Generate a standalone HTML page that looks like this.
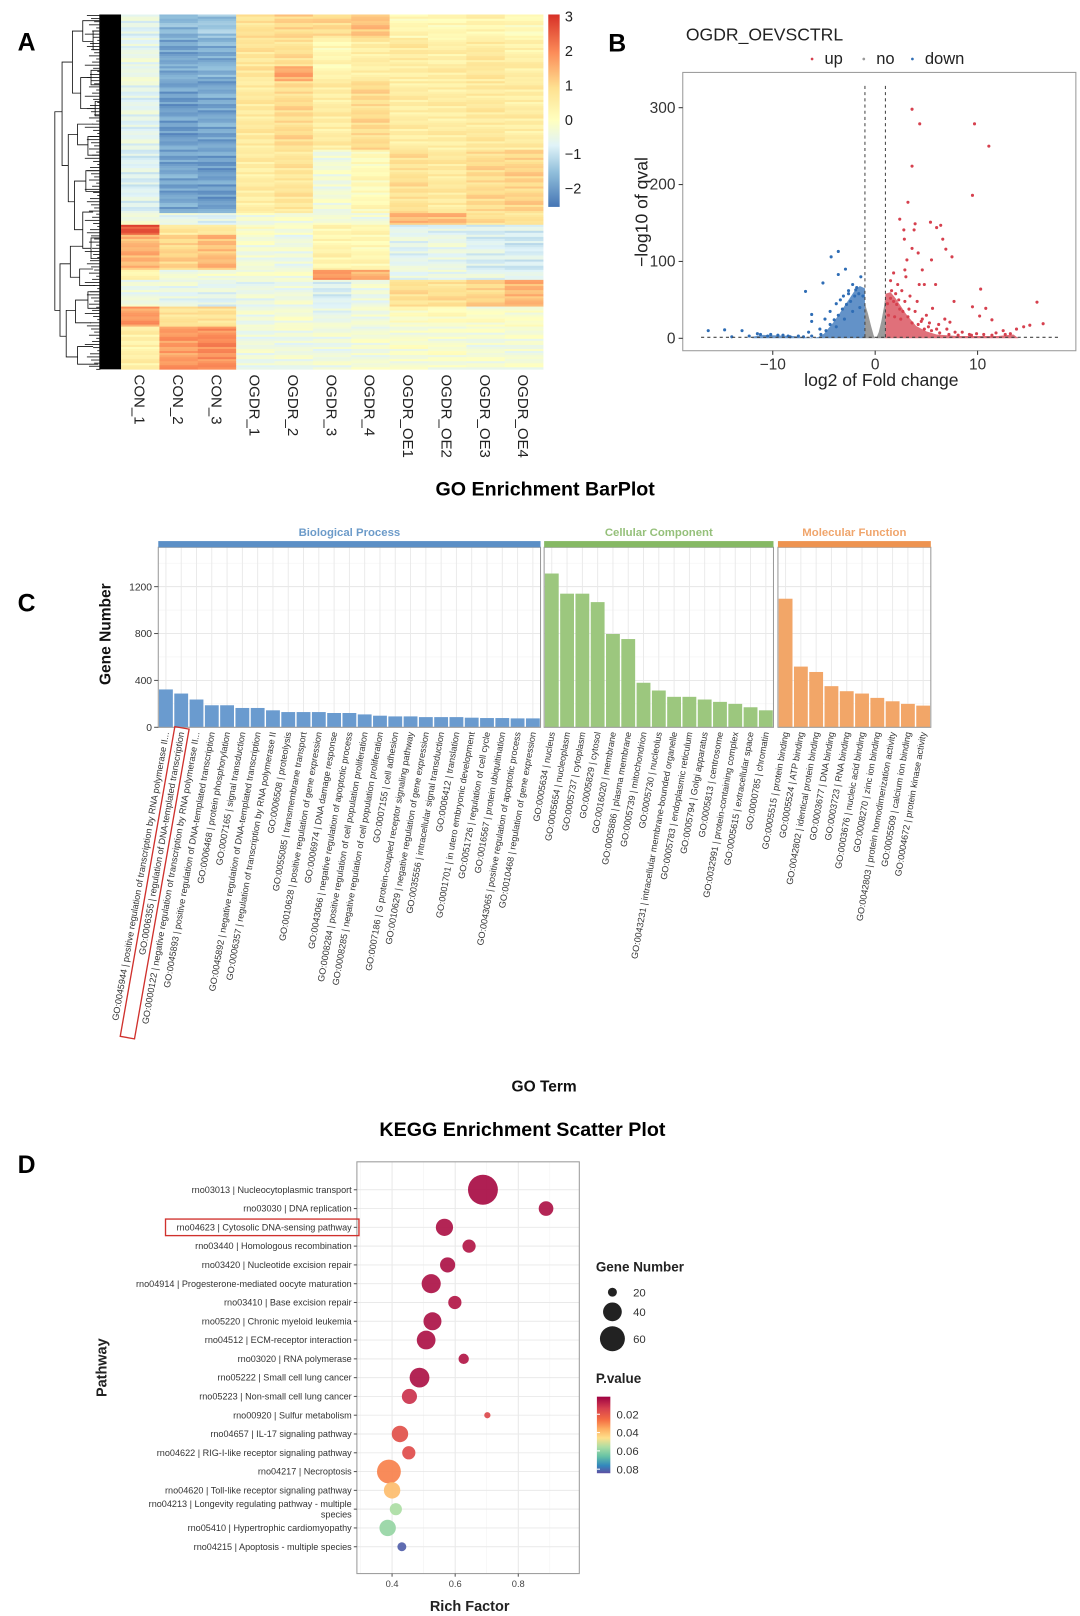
<!DOCTYPE html>
<html><head><meta charset="utf-8"><title>Figure</title>
<style>
html,body{margin:0;padding:0;background:#fff;width:1080px;height:1616px;overflow:hidden}
svg{display:block;font-family:"Liberation Sans",Arial,sans-serif}
</style></head>
<body>
<svg id="fig" width="1080" height="1616" viewBox="0 0 1044 1562" preserveAspectRatio="none" xmlns="http://www.w3.org/2000/svg">
<defs>
<linearGradient id="hmGrad" x1="0" y1="0" x2="0" y2="1">
<stop offset="0" stop-color="#D73027"/><stop offset="0.2" stop-color="#FC8D59"/><stop offset="0.38" stop-color="#FEE090"/><stop offset="0.55" stop-color="#FFFFBF"/><stop offset="0.68" stop-color="#E0F3F8"/><stop offset="0.82" stop-color="#91BFDB"/><stop offset="1" stop-color="#4575B4"/>
</linearGradient>
<linearGradient id="pGrad" x1="0" y1="0" x2="0" y2="1">
<stop offset="0" stop-color="#9E0142"/><stop offset="0.15" stop-color="#D53E4F"/><stop offset="0.3" stop-color="#F46D43"/><stop offset="0.42" stop-color="#FDAE61"/><stop offset="0.54" stop-color="#FEE08B"/><stop offset="0.66" stop-color="#ABDDA4"/><stop offset="0.78" stop-color="#66C2A5"/><stop offset="0.9" stop-color="#3288BD"/><stop offset="1" stop-color="#5E4FA2"/>
</linearGradient>
</defs>
<text x="17" y="49" font-size="24" font-weight="bold">A</text>
<text x="588" y="50" font-size="24" font-weight="bold">B</text>
<text x="17" y="591" font-size="24" font-weight="bold">C</text>
<text x="17" y="1134" font-size="24" font-weight="bold">D</text>
<text x="527" y="479" font-size="19" font-weight="bold" text-anchor="middle">GO Enrichment BarPlot</text>
<text x="505" y="1098" font-size="19" font-weight="bold" text-anchor="middle">KEGG Enrichment Scatter Plot</text>
<g id="gA"></g><g id="gB"></g><g id="gC"></g><g id="gD"></g>
</svg>
<script>
// ===== Panel A data =====
const hmCols = ['CON_1','CON_2','CON_3','OGDR_1','OGDR_2','OGDR_3','OGDR_4','OGDR_OE1','OGDR_OE2','OGDR_OE3','OGDR_OE4'];
const hmBlockSizes = [70,85,45,205,190,35,30,105,30,80,60,128];
const hmBlockValues = [
 [-0.6,-1.6,-1.4,0.8,1.0,0.9,1.2,0.2,0.2,0.3,0.1],
 [-0.5,-1.8,-1.7,0.7,0.8,0.2,0.5,0.6,0.4,0.6,0.4],
 [-0.5,-1.7,-1.6,0.7,1.5,0.3,0.5,0.5,0.5,0.6,0.5],
 [-0.6,-1.9,-1.8,0.6,0.9,0.5,0.9,0.5,0.5,0.6,0.5],
 [-0.7,-1.8,-1.9,0.5,0.7,-0.3,0.1,0.8,0.6,0.9,1.0],
 [-0.4,-0.5,-0.6,-0.3,-0.3,-0.3,-0.3,1.4,1.3,0.8,0.8],
 [2.6,0.6,0.6,0.0,-0.2,0.2,0.2,-0.6,-0.6,-0.7,-0.8],
 [1.4,1.0,1.3,-0.3,-0.4,0.3,0.2,-0.6,-0.5,-0.7,-0.8],
 [0.2,-0.3,-0.2,-0.2,-0.3,1.7,1.5,-0.5,-0.5,-0.6,-0.6],
 [-0.4,-0.5,-0.6,-0.5,-0.4,-0.7,-0.4,0.8,0.8,1.0,1.4],
 [1.7,0.8,0.8,-0.4,-0.3,-0.5,-0.3,0.0,0.0,-0.1,-0.1],
 [0.4,1.7,1.9,-0.4,-0.4,-0.4,-0.3,-0.2,-0.2,-0.3,-0.3]
];
const hmStreaks = [0,0.15,-0.1,0.25,-0.2,0.05,0.3,-0.15,0.1,-0.25,0.2,-0.05,0.12,-0.3];
const hmTicks = [3,2,1,0,-1,-2];
// ===== Panel B data =====
const upOutliers = [[3.6,298],[4.35,279],[9.7,279],[11.1,250],[3.6,224],[9.5,186],[3.2,177],[2.4,155],[5.4,151],[3.9,149],[6.4,147],[6.0,144],[2.8,141],[3.8,141],[2.85,129],[6.6,129],[3.6,117],[4.2,111],[6.9,116],[7.5,106],[5.5,102],[3.1,102],[4.6,89],[1.8,85],[2.9,89],[5.9,70],[4.3,70],[4.8,70],[10.3,64],[15.8,47],[7.7,48],[9.5,41],[10.8,39],[5.6,39],[16.4,19],[15.1,17],[10.2,29],[11.4,24],[7.3,21],[2.2,70],[2.6,62],[3.4,55],[4.1,48],[3.0,80],[1.5,75],[5.0,30],[6.2,18],[7.0,12],[8.5,8],[12.5,10],[13.8,12],[14.5,15],[13.2,6],[9.2,5],[11.8,7],[6.8,25],[5.3,20],[4.6,25],[3.9,35],[2.3,50]];
const upDense = [[1.2,45],[1.5,52],[1.8,48],[2.1,44],[2.4,38],[2.7,35],[1.3,30],[1.9,28],[2.5,25],[3.2,28],[3.6,20],[4.2,18],[4.8,12],[5.5,10],[6.3,7],[7.2,5],[8.1,4],[9.4,4],[10.6,5],[11.4,4],[12.7,5],[3.3,38],[2.9,48],[1.6,62],[2.0,58],[4.5,22],[5.2,15],[6.0,12],[7.8,8],[9.9,6]];
const downOutliers = [[-3.6,113],[-4.3,106],[-2.9,90],[-3.6,83],[-5.1,72],[-6.8,61],[-6.2,31],[-6.2,22],[-16.3,10],[-14.7,11],[-13.0,10],[-14.0,2],[-2.2,70],[-1.8,66],[-2.6,62],[-3.1,55],[-3.8,45],[-4.4,35],[-4.9,25],[-5.4,12],[-7.5,3],[-9.0,4],[-10.2,5],[-11.5,6],[-12.3,3],[-8.3,2],[-6.5,8],[-1.4,80]];
const downDense = [[-1.2,55],[-1.6,58],[-2.0,55],[-2.4,48],[-2.8,44],[-3.2,38],[-3.6,30],[-4.0,24],[-4.4,18],[-4.8,10],[-1.5,40],[-2.2,35],[-3.0,25],[-3.8,15],[-5.3,5],[-6.2,3],[-7.0,2],[-8.5,3],[-9.5,4],[-10.5,3],[-11.2,5],[-2.6,58],[-1.9,63],[-3.4,50]];
const downHull = [[-1,0],[-1,65],[-1.5,68],[-2,62],[-2.5,52],[-3,42],[-3.5,32],[-4,22],[-4.5,14],[-5,6],[-5.5,2],[-6,0]];
const downLowHull = [[-6,0],[-8,3],[-11,4.5],[-12,2],[-12,0]];
const upHull = [[1,0],[1,58],[1.5,60],[2,52],[2.5,42],[3,32],[3.5,24],[4,16],[5,9],[6,5],[8,3],[12,3],[13.5,5],[14,0]];
const noHullLeft = [[-1,0],[-1,45],[-0.7,32],[-0.4,16],[-0.15,4],[0,0]];
const noHullRight = [[0.1,0],[0.35,8],[0.6,22],[0.85,40],[1,55],[1,0]];
const vXTicks = [-10,0,10];
const vYTicks = [0,100,200,300];
// ===== Panel C data =====
const bpTerms = ['GO:0045944 | positive regulation of transcription by RNA polymerase II...','GO:0006355 | regulation of DNA-templated transcription','GO:0000122 | negative regulation of transcription by RNA polymerase II...','GO:0045893 | positive regulation of DNA-templated transcription','GO:0006468 | protein phosphorylation','GO:0007165 | signal transduction','GO:0045892 | negative regulation of DNA-templated transcription','GO:0006357 | regulation of transcription by RNA polymerase II','GO:0006508 | proteolysis','GO:0055085 | transmembrane transport','GO:0010628 | positive regulation of gene expression','GO:0006974 | DNA damage response','GO:0043066 | negative regulation of apoptotic process','GO:0008284 | positive regulation of cell population proliferation','GO:0008285 | negative regulation of cell population proliferation','GO:0007155 | cell adhesion','GO:0007186 | G protein-coupled receptor signaling pathway','GO:0010629 | negative regulation of gene expression','GO:0035556 | intracellular signal transduction','GO:0006412 | translation','GO:0001701 | in utero embryonic development','GO:0051726 | regulation of cell cycle','GO:0016567 | protein ubiquitination','GO:0043065 | positive regulation of apoptotic process','GO:0010468 | regulation of gene expression'];
const bpValues = [323,288,237,188,188,165,165,145,130,130,130,122,122,110,99,93,93,87,87,87,82,79,79,76,76];
const ccTerms = ['GO:0005634 | nucleus','GO:0005654 | nucleoplasm','GO:0005737 | cytoplasm','GO:0005829 | cytosol','GO:0016020 | membrane','GO:0005886 | plasma membrane','GO:0005739 | mitochondrion','GO:0005730 | nucleolus','GO:0043231 | intracellular membrane-bounded organelle','GO:0005783 | endoplasmic reticulum','GO:0005794 | Golgi apparatus','GO:0005813 | centrosome','GO:0032991 | protein-containing complex','GO:0005615 | extracellular space','GO:0000785 | chromatin'];
const ccValues = [1312,1140,1140,1068,796,753,380,314,260,260,237,217,200,171,145];
const mfTerms = ['GO:0005515 | protein binding','GO:0005524 | ATP binding','GO:0042802 | identical protein binding','GO:0003677 | DNA binding','GO:0003723 | RNA binding','GO:0003676 | nucleic acid binding','GO:0008270 | zinc ion binding','GO:0042803 | protein homodimerization activity','GO:0005509 | calcium ion binding','GO:0004672 | protein kinase activity'];
const mfValues = [1097,518,472,351,308,288,251,222,200,185];
const goYTicks = [0,400,800,1200];
// ===== Panel D data =====
const keggPathways = ['rno03013 | Nucleocytoplasmic transport','rno03030 | DNA replication','rno04623 | Cytosolic DNA-sensing pathway','rno03440 | Homologous recombination','rno03420 | Nucleotide excision repair','rno04914 | Progesterone-mediated oocyte maturation','rno03410 | Base excision repair','rno05220 | Chronic myeloid leukemia','rno04512 | ECM-receptor interaction','rno03020 | RNA polymerase','rno05222 | Small cell lung cancer','rno05223 | Non-small cell lung cancer','rno00920 | Sulfur metabolism','rno04657 | IL-17 signaling pathway','rno04622 | RIG-I-like receptor signaling pathway','rno04217 | Necroptosis','rno04620 | Toll-like receptor signaling pathway','rno04213 | Longevity regulating pathway - multiple species','rno05410 | Hypertrophic cardiomyopathy','rno04215 | Apoptosis - multiple species'];
const keggRich = [0.688,0.888,0.566,0.644,0.576,0.524,0.599,0.528,0.508,0.627,0.487,0.455,0.702,0.425,0.453,0.390,0.400,0.412,0.386,0.431];
const keggGenes = [80,30,36,27,31,41,27,38,40,22,43,31,17,34,27,56,34,25,34,20];
const keggP = [0.003,0.004,0.004,0.005,0.004,0.004,0.005,0.004,0.004,0.005,0.004,0.010,0.015,0.017,0.016,0.028,0.038,0.055,0.058,0.080];
const keggXTicks = [0.4,0.6,0.8];
const sizeLegend = [20,40,60];
const pLegend = [0.02,0.04,0.06,0.08];

const NS='http://www.w3.org/2000/svg';
function mk(tag, parent, attrs){const e=document.createElementNS(NS,tag);for(const k in attrs)e.setAttribute(k,attrs[k]);parent.appendChild(e);return e;}
function hex(c){return [parseInt(c.slice(1,3),16),parseInt(c.slice(3,5),16),parseInt(c.slice(5,7),16)];}
function ramp(stops,v){if(v<=stops[0][0])return stops[0][1];for(let i=1;i<stops.length;i++){if(v<=stops[i][0]){const t=(v-stops[i-1][0])/(stops[i][0]-stops[i-1][0]);const a=hex(stops[i-1][1]),b=hex(stops[i][1]);return 'rgb('+a.map((x,j)=>Math.round(x+(b[j]-x)*t)).join(',')+')';}}return stops[stops.length-1][1];}

// ===== Panel A =====
(function(){
 const g=document.getElementById('gA');
 const hx0=117,hx1=525,hy0=14,hy1=357,cw=(hx1-hx0)/hmCols.length;
 const total=hmBlockSizes.reduce((a,b)=>a+b,0);
 const stops=[[-2.4,'#4575B4'],[-1.5,'#91BFDB'],[-0.7,'#E0F3F8'],[0,'#FFFFBF'],[0.9,'#FEE090'],[1.9,'#FC8D59'],[3.1,'#D73027']];
 const hm=mk('g',g,{});
 
 
 let y=hy0;
 hmBlockSizes.forEach((sz,bi)=>{
  const h=sz/total*(hy1-hy0);
  const nRows=Math.max(1,Math.round(h/2));
  const rh=h/nRows;
  for(let r=0;r<nRows;r++){
   hmCols.forEach((c,ci)=>{
    const v=hmBlockValues[bi][ci]+hmStreaks[(r*3+ci*5+bi)%hmStreaks.length];
    const e=mk('rect',hm,{x:hx0+ci*cw,y:y+r*rh,width:cw+0.3,height:rh+0.3,fill:ramp(stops,v)});
    
    
   });
  }
  y+=h;
 });
 hmCols.forEach((c,ci)=>{
  const cx=hx0+ci*cw+cw/2;
  const t=mk('text',g,{x:0,y:0,'font-size':14.5,fill:'#222',transform:`translate(${cx-5.5},362) rotate(90)`});
  t.textContent=c;
  
  
 });
 const dg=mk('g',g,{stroke:'#111','stroke-width':0.8,fill:'none'});
 
 
 const dense=mk('rect',dg,{x:96,y:14,width:21,height:343,fill:'#000',stroke:'none'});
 
 
 const links=[[53,108,60,300,58],[60,60,70,160,66],[70,30,80,90,78],[66,130,75,195,72],[80,20,97,40,90],[78,75,88,105,92],[75,120,90,140,85],[72,175,83,222,80],[80,205,90,240,88],[58,255,68,325,64],[68,238,80,268,77],[64,300,73,345,75],[73,290,85,312,88],[75,335,90,352,95],[90,30,97,48,97],[88,68,97,82,97],[92,98,97,112,97],[85,132,97,150,97],[83,165,97,185,97],[88,230,97,250,97],[77,260,90,276,92],[85,282,97,298,97]];
 links.forEach(l=>{
  mk('path',dg,{d:`M${l[2]},${l[1]}H${l[0]}V${l[3]}H${l[4]}`});
 });
 const leafX=[84,88,91,86,93,89,82,90,94,87];
 for(let i=0;i<115;i++){const yy=15+i*3;mk('line',dg,{x1:leafX[i%leafX.length],y1:yy,x2:97,y2:yy});}
 const cb=mk('rect',g,{x:530,y:14,width:11,height:186,fill:'url(#hmGrad)'});
 
 
 hmTicks.forEach(v=>{
  const yy=14+(3.06-v)*33.2;
  const t=mk('text',g,{x:546,y:yy+5,'font-size':14,fill:'#222'});
  t.textContent=v<0?'\u2212'+Math.abs(v):String(v);
  
  
 });
})();

// ===== Panel B =====
(function(){
 const g=document.getElementById('gB');
 const X=v=>846+v*9.9, Y=v=>327-v*0.743;
 const t=mk('text',g,{x:663,y:39,'font-size':17,fill:'#222'});t.textContent='OGDR_OEVSCTRL';
 
 
 const leg=[['up','#D6404E',785],['no','#999',835],['down','#2F6DB5',882]];
 leg.forEach(l=>{
  const lg=mk('g',g,{});
  
  
  mk('circle',lg,{cx:l[2],cy:57,r:1.3,fill:l[1]});
  const tt=mk('text',lg,{x:l[2]+12,y:62,'font-size':16,fill:'#222'});tt.textContent=l[0];
 });
 const box=mk('rect',g,{x:660,y:70,width:380,height:269,fill:'#fff',stroke:'#999','stroke-width':1});
 
 
 function hull(pts,color,name,op){
  const p=mk('polygon',g,{points:pts.map(q=>X(q[0])+','+Y(q[1])).join(' '),fill:color,'fill-opacity':op});
  
  
 }
 hull(downHull,'#2F6DB5','down-regulated-density',0.75);
 hull(downLowHull,'#2F6DB5','down-regulated-tail',0.7);
 hull(upHull,'#D6404E','up-regulated-density',0.75);
 hull(noHullLeft,'#8f8f8f','not-significant-left',0.9);
 hull(noHullRight,'#8f8f8f','not-significant-right',0.9);
 upOutliers.concat(upDense).forEach(p=>{const c=mk('circle',g,{cx:X(p[0]),cy:Y(p[1]),r:1.5,fill:'#D6404E'});
  
  });
 downOutliers.concat(downDense).forEach(p=>{const c=mk('circle',g,{cx:X(p[0]),cy:Y(p[1]),r:1.5,fill:'#2F6DB5'});
  
  });
 const dash={stroke:'#444','stroke-width':1,'stroke-dasharray':'3,3'};
 const d1=mk('line',g,Object.assign({x1:X(-1),y1:83,x2:X(-1),y2:Y(0)},dash));
 
 
 const d2=mk('line',g,Object.assign({x1:X(1),y1:83,x2:X(1),y2:Y(0)},dash));
 
 
 const d3=mk('line',g,Object.assign({x1:X(-17),y1:Y(1.3),x2:X(18),y2:Y(1.3)},dash));
 
 
 vXTicks.forEach(v=>{mk('line',g,{x1:X(v),y1:339,x2:X(v),y2:343,stroke:'#333'});
  const tt=mk('text',g,{x:X(v),y:357,'font-size':15,'text-anchor':'middle',fill:'#333'});tt.textContent=v<0?'\u2212'+Math.abs(v):String(v);
  
  });
 vYTicks.forEach(v=>{mk('line',g,{x1:656,y1:Y(v),x2:660,y2:Y(v),stroke:'#333'});
  const tt=mk('text',g,{x:653,y:Y(v)+5,'font-size':15,'text-anchor':'end',fill:'#333'});tt.textContent=v;
  
  });
 const xl=mk('text',g,{x:852,y:373,'font-size':17,'text-anchor':'middle',fill:'#222'});xl.textContent='log2 of Fold change';
 
 
 const yl=mk('text',g,{x:0,y:0,'font-size':17,'text-anchor':'middle',fill:'#222',transform:'translate(626,205) rotate(-90)'});yl.textContent='\u2212log10 of qval';
 
 
})();

// ===== Panel C =====
(function(){
 const g=document.getElementById('gC');
 const band=14.78, yTop=529, y0=703, k=0.1133;
 const Y=v=>y0-v*k;
 const panels=[
  {name:'Biological Process',x0:153,terms:bpTerms,vals:bpValues,bar:'#6A9BCF',strip:'#5B8FC6',txt:'#6C9BC9',id:'biological-process'},
  {name:'Cellular Component',x0:526,terms:ccTerms,vals:ccValues,bar:'#9CC77E',strip:'#86B964',txt:'#95C07A',id:'cellular-component'},
  {name:'Molecular Function',x0:752,terms:mfTerms,vals:mfValues,bar:'#F2A668',strip:'#EE9350',txt:'#F0A56C',id:'molecular-function'}];
 panels.forEach((p,pi)=>{
  const w=p.vals.length*band, x1=p.x0+w;
  const pg=mk('g',g,{});
  
  
  mk('rect',pg,{x:p.x0,y:yTop,width:w,height:y0-yTop,fill:'#fff'});
  [200,600,1000,1400].forEach(v=>mk('line',pg,{x1:p.x0,y1:Y(v),x2:x1,y2:Y(v),stroke:'#F3F3F3','stroke-width':0.6}));
  goYTicks.forEach(v=>mk('line',pg,{x1:p.x0,y1:Y(v),x2:x1,y2:Y(v),stroke:'#E6E6E6','stroke-width':0.9}));
  p.vals.forEach((v,i)=>mk('line',pg,{x1:p.x0+band*(i+0.5),y1:yTop,x2:p.x0+band*(i+0.5),y2:y0,stroke:'#E9E9E9','stroke-width':0.9}));
  p.vals.forEach((v,i)=>{
   const b=mk('rect',pg,{x:p.x0+band*i+0.7,y:Y(v),width:band-1.4,height:v*k,fill:p.bar});
   
   
   const t=mk('text',pg,{x:0,y:0,'font-size':8.8,fill:'#333','text-anchor':'end',transform:`translate(${p.x0+band*(i+0.5)+3},${y0+5}) rotate(-80)`});
   t.textContent=p.terms[i];
   
   
  });
  mk('rect',pg,{x:p.x0,y:yTop,width:w,height:y0-yTop,fill:'none',stroke:'#9a9a9a','stroke-width':1});
  const s=mk('rect',pg,{x:p.x0,y:523,width:w,height:6,fill:p.strip});
  
  
  const st=mk('text',pg,{x:p.x0+w/2,y:518,'font-size':11,'font-weight':'bold','text-anchor':'middle',fill:p.txt});st.textContent=p.name;
  
  
 });
 goYTicks.forEach(v=>{mk('line',g,{x1:149,y1:Y(v),x2:153,y2:Y(v),stroke:'#555'});
  const t=mk('text',g,{x:147,y:Y(v)+3.5,'font-size':10,'text-anchor':'end',fill:'#333'});t.textContent=v;
  
  });
 const hb=mk('rect',g,{x:-300,y:-10,width:304,height:14,fill:'none',stroke:'#D0312D','stroke-width':1.3,transform:`translate(${153+band*1.5+3},${y0+5}) rotate(-80)`});
 
 
 const yl=mk('text',g,{x:0,y:0,'font-size':15,'font-weight':'bold','text-anchor':'middle',fill:'#111',transform:'translate(107,613) rotate(-90)'});yl.textContent='Gene Number';
 
 
 const xl=mk('text',g,{x:526,y:1055,'font-size':15,'font-weight':'bold','text-anchor':'middle',fill:'#111'});xl.textContent='GO Term';
 
 
})();

// ===== Panel D =====
(function(){
 const g=document.getElementById('gD');
 const X=v=>257+v*305, Yr=i=>1150+i*18.16;
 const bx0=345,bx1=560,by0=1123,by1=1521;
 const R=n=>Math.sqrt(Math.max(3.4*n-48,4))/1.035;
 const pStops=[[0.001,'#9E0142'],[0.012,'#D53E4F'],[0.025,'#F46D43'],[0.035,'#FDAE61'],[0.045,'#FEE08B'],[0.055,'#ABDDA4'],[0.065,'#66C2A5'],[0.075,'#3288BD'],[0.082,'#5E4FA2']];
 mk('rect',g,{x:bx0,y:by0,width:bx1-bx0,height:by1-by0,fill:'#fff'});
 [0.3,0.5,0.7,0.9].forEach(v=>mk('line',g,{x1:X(v),y1:by0,x2:X(v),y2:by1,stroke:'#F3F3F3','stroke-width':0.6}));
 keggXTicks.forEach(v=>mk('line',g,{x1:X(v),y1:by0,x2:X(v),y2:by1,stroke:'#E6E6E6','stroke-width':0.9}));
 keggPathways.forEach((p,i)=>mk('line',g,{x1:bx0,y1:Yr(i),x2:bx1,y2:Yr(i),stroke:'#E9E9E9','stroke-width':0.9}));
 const box=mk('rect',g,{x:bx0,y:by0,width:bx1-bx0,height:by1-by0,fill:'none',stroke:'#9a9a9a','stroke-width':1});
 
 
 keggPathways.forEach((p,i)=>{
  mk('line',g,{x1:342,y1:Yr(i),x2:345,y2:Yr(i),stroke:'#555'});
  if(p.indexOf('Longevity')>0){
   const t1=mk('text',g,{x:340,y:Yr(i)-2,'font-size':8.8,'text-anchor':'end',fill:'#333'});t1.textContent='rno04213 | Longevity regulating pathway - multiple';
   
   
   const t2=mk('text',g,{x:340,y:Yr(i)+8,'font-size':8.8,'text-anchor':'end',fill:'#333'});t2.textContent='species';
   
   
  } else {
   const t=mk('text',g,{x:340,y:Yr(i)+3,'font-size':8.8,'text-anchor':'end',fill:'#333'});t.textContent=p;
   
   
  }
 });
 const hb=mk('rect',g,{x:160,y:Yr(2)-8,width:187,height:16,fill:'none',stroke:'#D0312D','stroke-width':1.3});
 
 
 keggPathways.forEach((p,i)=>{
  const c=mk('circle',g,{cx:X(keggRich[i]),cy:Yr(i),r:R(keggGenes[i]),fill:ramp(pStops,keggP[i]),'fill-opacity':0.92});
  
  
 });
 keggXTicks.forEach(v=>{mk('line',g,{x1:X(v),y1:by1,x2:X(v),y2:by1+3,stroke:'#555'});
  const t=mk('text',g,{x:X(v),y:by1+13,'font-size':9,'text-anchor':'middle',fill:'#444'});t.textContent=v.toFixed(1);
  
  });
 const xl=mk('text',g,{x:454,y:1557,'font-size':14,'font-weight':'bold','text-anchor':'middle',fill:'#222'});xl.textContent='Rich Factor';
 
 
 const yl=mk('text',g,{x:0,y:0,'font-size':14,'font-weight':'bold','text-anchor':'middle',fill:'#222',transform:'translate(103,1322) rotate(-90)'});yl.textContent='Pathway';
 
 
 const lt=mk('text',g,{x:576,y:1229,'font-size':13,'font-weight':'bold',fill:'#222'});lt.textContent='Gene Number';
 
 
 const sy=[1249,1268,1294];
 sizeLegend.forEach((n,i)=>{
  const lg=mk('g',g,{});
  
  
  mk('circle',lg,{cx:592,cy:sy[i],r:R(n),fill:'#222'});
  const t=mk('text',lg,{x:612,y:sy[i]+4,'font-size':11,fill:'#333'});t.textContent=n;
 });
 const pt=mk('text',g,{x:576,y:1337,'font-size':13,'font-weight':'bold',fill:'#222'});pt.textContent='P.value';
 
 
 const cb=mk('rect',g,{x:577,y:1350,width:13,height:74,fill:'url(#pGrad)'});
 
 
 pLegend.forEach(v=>{
  const yy=1350+(v-0.0008)/0.02*17.7;
  mk('line',g,{x1:577,y1:yy,x2:580,y2:yy,stroke:'#fff'});
  const t=mk('text',g,{x:596,y:yy+4,'font-size':11,fill:'#333'});t.textContent=v.toFixed(2);
  
  
 });
})();
</script>
</body></html>
